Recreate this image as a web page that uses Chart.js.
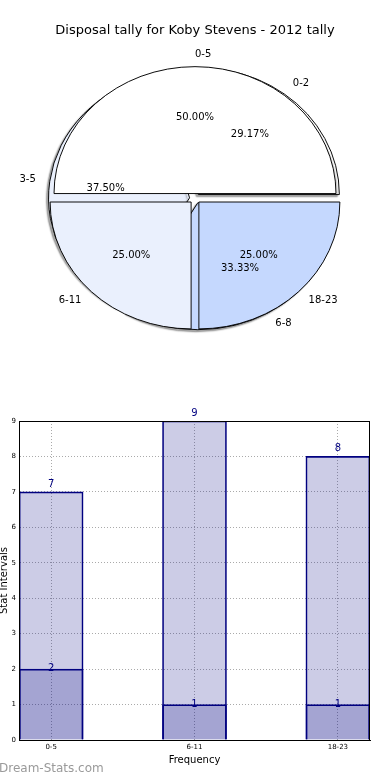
<!DOCTYPE html>
<html>
<head>
<meta charset="utf-8">
<script src="https://cdn.jsdelivr.net/npm/chart.js@4/dist/chart.umd.min.js"></script>
<style>
    body { margin: 0; background: #fff; width: 390px; height: 780px; position: relative; overflow: hidden; font-family: "DejaVu Sans", sans-serif; }
    canvas { position: absolute; left: 0; }
    #title { position: absolute; top: 22px; left: 0; width: 390px; text-align: center; font-size: 13px; line-height: 16px; color: #000; }
    #mark { position: absolute; left: -1px; top: 761px; font-size: 12px; color: #9a9a9a; }
</style>
</head>
<body>
<canvas id="pieBack" width="390" height="395" style="top:0"></canvas>
<canvas id="pieFront" width="390" height="395" style="top:0"></canvas>
<div id="title">Disposal tally for Koby Stevens - 2012 tally</div>
<canvas id="barChart" width="390" height="380" style="top:400px"></canvas>
<div id="mark">Dream-Stats.com</div>
<script>
// --- Data ---
const categories = ['0-5', '6-11', '18-23'];
const totals = [7, 9, 8];        // light bars
const subset = [2, 1, 1];        // darker bars
const frontLabels = ['0-5', '6-11', '18-23'];  // pie of subset
const backLabels = ['0-2', '3-5', '6-8'];      // pie of totals
const yTicks = [0, 1, 2, 3, 4, 5, 6, 7, 8, 9];

const pieColors = ['#ffffff', '#eaf0fd', '#c5d8fe'];
const Y_SCALE = 0.9;   // pie is squashed vertically in the original
const EXPLODE = 5.5;
const RADIUS = 141;

// --- Pie helpers ---
function ellipsePlugin(withShadow) {
    return {
        id: 'ellipse',
        beforeDatasetsDraw(chart) {
            const ctx = chart.ctx;
            const a = chart.chartArea;
            const cx = (a.left + a.right) / 2;
            const cy = (a.top + a.bottom) / 2;
            ctx.save();
            ctx.translate(cx, cy);
            ctx.scale(1, -Y_SCALE);
            ctx.translate(-cx, -cy);
            if (withShadow) {
                ctx.shadowColor = 'rgba(0,0,0,0.35)';
                ctx.shadowOffsetX = -2;
                ctx.shadowOffsetY = 2;
                ctx.shadowBlur = 1.5;
            }
        },
        afterDatasetsDraw(chart) {
            chart.ctx.restore();
        }
    };
}

// chart.js's own arc offset also grows half-circle slices, so push slices out by hand
const explodePlugin = {
    id: 'explode',
    afterUpdate(chart) {
        chart.getDatasetMeta(0).data.forEach(arc => {
            if (arc._exploded) return;
            const baseDraw = arc.draw;
            arc.draw = function (ctx, area) {
                const mid = (this.startAngle + this.endAngle) / 2;
                ctx.save();
                ctx.translate(Math.cos(mid) * EXPLODE, Math.sin(mid) * EXPLODE);
                baseDraw.call(this, ctx, area);
                ctx.restore();
            };
            arc._exploded = true;
        });
    }
};

function drawPieLabels(chart, srcChart, names) {
    const ctx = chart.ctx;
    const a = srcChart.chartArea;
    const cy = (a.top + a.bottom) / 2;
    const meta = srcChart.getDatasetMeta(0);
    const vals = srcChart.data.datasets[0].data;
    const total = vals.reduce((s, v) => s + v, 0);
    ctx.save();
    ctx.font = '10px "DejaVu Sans"';
    ctx.fillStyle = '#000';
    ctx.textBaseline = 'middle';
    meta.data.forEach((arc, i) => {
        const mid = (arc.startAngle + arc.endAngle) / 2;
        const R = arc.outerRadius;
        const ox = arc.x + EXPLODE * Math.cos(mid);
        const oy = EXPLODE * Math.sin(mid);
        const toScreenY = (dy) => cy - Y_SCALE * dy;

        // outer name label
        const lx = ox + 1.1 * R * Math.cos(mid);
        const ly = toScreenY(oy + 1.1 * R * Math.sin(mid));
        ctx.textAlign = Math.cos(mid) > 0 ? 'left' : 'right';
        ctx.fillText(names[i], lx, ly);

        // percent label
        const px = ox + 0.6 * R * Math.cos(mid);
        const py = toScreenY(oy + 0.6 * R * Math.sin(mid));
        ctx.textAlign = 'center';
        ctx.fillText((vals[i] / total * 100).toFixed(2) + '%', px, py);
    });
    ctx.restore();
}

function pieConfig(values, names, extraPlugins) {
    return {
        type: 'pie',
        data: {
            labels: names,
            datasets: [{
                data: values,
                backgroundColor: pieColors,
                borderColor: '#000',
                borderWidth: 1,
                borderJoinStyle: 'miter'
            }]
        },
        options: {
            responsive: false,
            animation: false,
            rotation: 90,
            radius: RADIUS,
            layout: { padding: { top: 2 } },
            plugins: {
                legend: { display: false },
                tooltip: { enabled: false }
            }
        },
        plugins: [explodePlugin].concat(extraPlugins)
    };
}

const backPie = new Chart(document.getElementById('pieBack'),
    pieConfig(totals, backLabels, [ellipsePlugin(true)]));

const frontPie = new Chart(document.getElementById('pieFront'),
    pieConfig(subset, frontLabels, [ellipsePlugin(false), {
        id: 'pieLabels',
        afterDraw(chart) {
            drawPieLabels(chart, backPie, backLabels);
            drawPieLabels(chart, chart, frontLabels);
        }
    }]));

// --- Bar chart ---
const navy = '#000080';
const barFill = 'rgba(0,0,128,0.2)';

const barValueLabels = {
    id: 'barValueLabels',
    afterDatasetsDraw(chart) {
        const ctx = chart.ctx;
        ctx.save();
        ctx.font = '10px "DejaVu Sans"';
        ctx.fillStyle = navy;
        ctx.textAlign = 'center';
        ctx.textBaseline = 'alphabetic';
        chart.data.datasets.forEach((ds, di) => {
            const meta = chart.getDatasetMeta(di);
            meta.data.forEach((bar, i) => {
                const shift = di === 0 ? -5 : 2;
                ctx.fillText(String(ds.data[i].y), bar.x, bar.y + shift);
            });
        });
        ctx.restore();
    }
};

const frameBox = {
    id: 'frameBox',
    afterDraw(chart) {
        const a = chart.chartArea;
        const ctx = chart.ctx;
        ctx.save();
        ctx.strokeStyle = '#000';
        ctx.lineWidth = 1;
        ctx.strokeRect(Math.round(a.left) + 0.5, Math.round(a.top) + 0.5,
            Math.round(a.right - a.left) - 1, Math.round(a.bottom - a.top));
        ctx.restore();
    }
};

new Chart(document.getElementById('barChart'), {
    type: 'bar',
    data: {
        datasets: [
            {
                label: 'total',
                data: categories.map((c, i) => ({ x: i, y: totals[i] })),
                backgroundColor: barFill,
                borderColor: navy,
                borderWidth: 1,
                barThickness: 64,
                grouped: false,
                order: 2
            },
            {
                label: 'subset',
                data: categories.map((c, i) => ({ x: i, y: subset[i] })),
                backgroundColor: barFill,
                borderColor: navy,
                borderWidth: 1,
                barThickness: 64,
                grouped: false,
                order: 1
            }
        ]
    },
    options: {
        responsive: false,
        animation: false,
        layout: { padding: { top: 21, right: 20, left: 0, bottom: 0 } },
        plugins: {
            legend: { display: false },
            tooltip: { enabled: false }
        },
        scales: {
            x: {
                type: 'linear',
                offset: false,
                min: -0.224,
                max: 2.224,
                z: 1,
                afterBuildTicks: (axis) => { axis.ticks = categories.map((c, i) => ({ value: i })); },
                afterFit: (axis) => { axis.height = 40; },
                ticks: {
                    callback: (v) => categories[v],
                    font: { family: 'DejaVu Sans', size: 7 },
                    color: '#000',
                    padding: 3,
                    maxRotation: 0
                },
                grid: { color: '#aaa', offset: false, drawTicks: false, lineWidth: 1 },
                border: { color: '#000', dash: [1, 2] },
                title: {
                    display: true,
                    text: 'Frequency',
                    font: { family: 'DejaVu Sans', size: 10, lineHeight: 1.2 },
                    color: '#000',
                    padding: { top: 0, bottom: 14 }
                }
            },
            y: {
                min: 0,
                max: 9,
                z: 1,
                afterBuildTicks: (axis) => { axis.ticks = yTicks.map(v => ({ value: v })); },
                afterFit: (axis) => { axis.width = 19; },
                ticks: {
                    font: { family: 'DejaVu Sans', size: 7 },
                    color: '#000',
                    padding: 3
                },
                grid: { color: '#aaa', drawTicks: false, lineWidth: 1 },
                border: { color: '#000', dash: [1, 2] },
                title: {
                    display: true,
                    text: 'Stat Intervals',
                    font: { family: 'DejaVu Sans', size: 10, lineHeight: 0.8 },
                    color: '#000',
                    padding: 0
                }
            }
        }
    },
    plugins: [barValueLabels, frameBox]
});
</script>
</body>
</html>
